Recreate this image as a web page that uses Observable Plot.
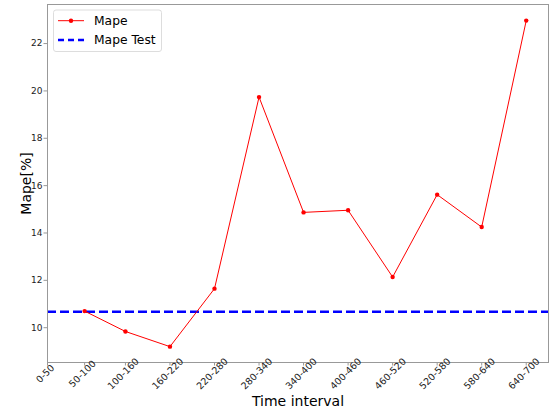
<!DOCTYPE html>
<html>
<head>
<meta charset="utf-8">
<script src="https://cdn.jsdelivr.net/npm/d3@7"></script>
<script src="https://cdn.jsdelivr.net/npm/@observablehq/plot@0.6"></script>
<style>
  html, body { margin: 0; padding: 0; background: #fff; }
  svg { font-family: "DejaVu Sans", sans-serif; }
</style>
</head>
<body>
<div id="chart"></div>
<script>
const categories = ["0-50","50-100","100-160","160-220","220-280","280-340","340-400","400-460","460-520","520-580","580-640","640-700"];
const mapeValues = [null, 10.70, 9.84, 9.20, 11.65, 19.74, 14.87, 14.96, 12.14, 15.62, 14.25, 22.97];
const mapeTest = 10.67;
const yTicks = [10, 12, 14, 16, 18, 20, 22];

const mid = (c) => { const [a, b] = c.split("-").map(Number); return (a + b) / 2; };
const table = categories.map((c, i) => ({cat: c, x: mid(c), y: mapeValues[i]}));
const pts = table.filter(d => d.y != null);

const chart = Plot.plot({
  width: 549,
  height: 414,
  marginLeft: 47,
  marginRight: 1,
  marginTop: 4,
  marginBottom: 52,
  style: {fontFamily: "DejaVu Sans, sans-serif", background: "#fff"},
  x: {type: "linear", domain: [25, 700]},
  y: {domain: [8.53, 23.65]},
  marks: [
    Plot.ruleY([mapeTest], {stroke: "#0000ff", strokeWidth: 2.5, strokeDasharray: "9,4"}),
    Plot.line(pts, {x: "x", y: "y", stroke: "#ff0000", strokeWidth: 1}),
    Plot.dot(pts, {x: "x", y: "y", r: 2.2, fill: "#ff0000", stroke: "none"}),
    Plot.frame({stroke: "#999", strokeWidth: 1}),
    Plot.axisY({ticks: yTicks, tickSize: 3.5, tickPadding: 1.5, fontSize: 9, stroke: "#999", label: null, color: "#222"}),
    Plot.axisX({ticks: table.map(d => d.x), tickSize: 3.5, tickFormat: () => "", stroke: "#999", label: null}),
    Plot.text(table, {x: "x", text: "cat", frameAnchor: "bottom", dy: 13.5, rotate: -45, textAnchor: "middle", fontSize: 9.5, fill: "#222"}),
    Plot.text(["Time interval"], {frameAnchor: "bottom", dy: 43, fontSize: 14, fill: "#000"}),
    Plot.text(["Mape[%]"], {frameAnchor: "left", dx: -21, rotate: -90, textAnchor: "middle", fontSize: 14, fill: "#000"})
  ]
});

// legend
const svg = d3.select(chart);
const g = svg.append("g").attr("font-family", "DejaVu Sans, sans-serif").attr("text-anchor", "start");
g.append("rect").attr("x", 53.5).attr("y", 10).attr("width", 108).attr("height", 41.5)
  .attr("rx", 2.5).attr("fill", "#fff").attr("fill-opacity", 0.8).attr("stroke", "#ddd");
g.append("line").attr("x1", 58).attr("x2", 84).attr("y1", 20.7).attr("y2", 20.7)
  .attr("stroke", "#ff0000").attr("stroke-width", 1);
g.append("circle").attr("cx", 71).attr("cy", 20.7).attr("r", 2.2).attr("fill", "#ff0000");
g.append("text").attr("x", 94).attr("y", 20.7).attr("dy", "0.35em").attr("font-size", 12.3).attr("fill", "#000").text("Mape");
g.append("line").attr("x1", 58).attr("x2", 84).attr("y1", 40).attr("y2", 40)
  .attr("stroke", "#0000ff").attr("stroke-width", 2.5).attr("stroke-dasharray", "6,4");
g.append("text").attr("x", 94).attr("y", 40).attr("dy", "0.35em").attr("font-size", 12.3).attr("fill", "#000").text("Mape Test");

document.getElementById("chart").appendChild(chart);
</script>
</body>
</html>
